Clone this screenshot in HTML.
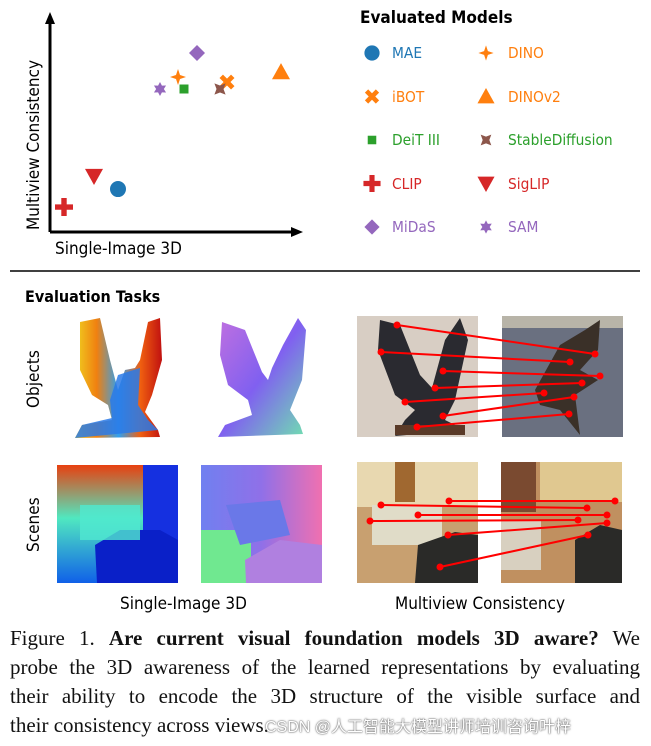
<!DOCTYPE html>
<html><head><meta charset="utf-8">
<style>
body{margin:0;background:#fff;width:651px;height:746px;overflow:hidden;position:relative;font-family:"Liberation Sans",sans-serif}
.abs{position:absolute}
.leg{position:absolute;font-size:15px;font-family:"DejaVu Sans","Liberation Sans",sans-serif;transform:scaleX(0.92);transform-origin:left}
.cap{position:absolute;left:10px;width:630px;font-family:"Liberation Serif",serif;font-size:21px;text-align:justify;text-align-last:justify;line-height:29px;color:#111}
</style></head><body>
<svg class="abs" style="left:0;top:0" width="651" height="746">
<defs>
<linearGradient id="dep" x1="0" y1="0" x2="1" y2="0"><stop offset="0" stop-color="#f0d020"/><stop offset="0.25" stop-color="#f08010"/><stop offset="0.5" stop-color="#30a0f0"/><stop offset="0.75" stop-color="#f06010"/><stop offset="1" stop-color="#c01010"/></linearGradient>
<linearGradient id="nrm" x1="0" y1="0" x2="1" y2="1"><stop offset="0" stop-color="#c070e0"/><stop offset="0.5" stop-color="#8060f0"/><stop offset="1" stop-color="#70e0b0"/></linearGradient>
<linearGradient id="sd" x1="0" y1="0" x2="0" y2="1"><stop offset="0" stop-color="#e84010"/><stop offset="0.45" stop-color="#50e8c0"/><stop offset="1" stop-color="#1060e8"/></linearGradient>
<linearGradient id="sn" x1="0" y1="0" x2="1" y2="0"><stop offset="0" stop-color="#7080f0"/><stop offset="0.5" stop-color="#9070e8"/><stop offset="1" stop-color="#f070b0"/></linearGradient>
</defs>
<g id="plot"></g>
<line x1="10" y1="271" x2="640" y2="271" stroke="#000" stroke-width="1.5"/>
<g>
<path d="M80,322 L100,318 L110,360 L118,390 L125,370 L135,368 L140,360 L148,322 L160,318 L162,360 L152,395 L145,412 L158,430 L160,437 L75,438 L82,425 L112,420 L108,405 L92,395 L80,370 Z" fill="url(#dep)"/>
<path d="M118,375 L140,368 L138,405 L148,420 L158,430 L75,438 L82,425 L112,418 L110,400 Z" fill="#2a7ae8" opacity="0.85"/>
</g>
<g>
<path d="M222,322 L245,330 L262,372 L268,380 L272,368 L283,345 L298,318 L306,330 L302,380 L290,410 L300,425 L303,434 L218,437 L225,425 L252,415 L248,400 L228,385 L220,355 Z" fill="url(#nrm)"/>
</g>
<rect x="57" y="465" width="121" height="118" fill="url(#sd)"/>
<rect x="143" y="465" width="35" height="118" fill="#1530e0"/>
<path d="M97,583 L95,545 L120,530 L160,530 L178,540 L178,583 Z" fill="#0a20c8"/>
<rect x="80" y="505" width="60" height="35" fill="#50e8d0" opacity="0.8"/>
<rect x="201" y="465" width="121" height="118" fill="url(#sn)"/>
<rect x="201" y="530" width="50" height="53" fill="#70e890"/>
<path d="M226,505 L280,500 L290,535 L240,545 Z" fill="#6a78e8"/>
<path d="M246,583 L245,560 L280,540 L322,545 L322,583 Z" fill="#b080e0"/>
<g>
<rect x="357" y="316" width="121" height="121" fill="#d8cec4"/>
<path d="M380,320 L400,325 L420,375 L432,388 L445,340 L460,318 L468,340 L455,400 L445,420 L465,430 L395,436 L405,420 L415,410 L395,395 L378,350 Z" fill="#2a2a30"/>
<rect x="395" y="425" width="70" height="10" fill="#5a3a28"/>
</g>
<g>
<rect x="502" y="316" width="121" height="121" fill="#6a7080"/>
<rect x="502" y="316" width="121" height="12" fill="#b8b4a8"/>
<path d="M535,390 L560,345 L585,330 L600,320 L598,350 L580,370 L598,380 L575,395 L580,435 L560,410 L540,405 Z" fill="#3a3028"/>
</g>
<g>
<rect x="357" y="462" width="121" height="121" fill="#c8a070"/>
<rect x="357" y="462" width="121" height="45" fill="#e8d8b0"/>
<rect x="395" y="462" width="20" height="40" fill="#a06830"/>
<rect x="372" y="505" width="70" height="40" fill="#e0dcc8"/>
<path d="M415,583 L418,545 L455,532 L478,535 L478,583 Z" fill="#2a2a28"/>
</g>
<g>
<rect x="501" y="462" width="121" height="121" fill="#c09060"/>
<rect x="501" y="462" width="35" height="50" fill="#7a4a30"/>
<rect x="540" y="462" width="82" height="40" fill="#e0c890"/>
<rect x="501" y="520" width="40" height="50" fill="#d8d0c0"/>
<path d="M575,583 L575,540 L600,525 L622,530 L622,583 Z" fill="#2a2a28"/>
</g>
<g id="lines"></g>
</svg>

<div class="abs" style="left:360px;top:8px;font-size:17px;font-weight:bold;font-family:'DejaVu Sans',sans-serif;transform:scaleX(0.9);transform-origin:left">Evaluated Models</div>
<div id="legend"></div>

<div class="abs" style="left:55px;top:239px;font-size:17px;font-family:'DejaVu Sans',sans-serif;transform:scaleX(0.9);transform-origin:left">Single-Image 3D</div>
<div class="abs" style="left:24px;top:230px;font-size:17px;font-family:'DejaVu Sans',sans-serif;transform:rotate(-90deg) scaleX(0.9);transform-origin:left top;white-space:nowrap">Multiview Consistency</div>

<div class="abs" style="left:25px;top:287px;font-size:16px;font-weight:bold;font-family:'DejaVu Sans',sans-serif;transform:scaleX(0.9);transform-origin:left">Evaluation Tasks</div>
<div class="abs" style="left:24px;top:408px;font-size:17px;font-family:'DejaVu Sans',sans-serif;transform:rotate(-90deg) scaleX(0.9);transform-origin:left top">Objects</div>
<div class="abs" style="left:24px;top:552px;font-size:17px;font-family:'DejaVu Sans',sans-serif;transform:rotate(-90deg) scaleX(0.9);transform-origin:left top">Scenes</div>
<div class="abs" style="left:120px;top:594px;font-size:17px;font-family:'DejaVu Sans',sans-serif;transform:scaleX(0.9);transform-origin:left">Single-Image 3D</div>
<div class="abs" style="left:395px;top:594px;font-size:17px;font-family:'DejaVu Sans',sans-serif;transform:scaleX(0.9);transform-origin:left">Multiview Consistency</div>

<div class="cap" style="top:624px">Figure 1. <b>Are current visual foundation models 3D aware?</b> We</div>
<div class="cap" style="top:653px">probe the 3D awareness of the learned representations by evaluating</div>
<div class="cap" style="top:682px">their ability to encode the 3D structure of the visible surface and</div>
<div class="cap" style="top:711px;text-align-last:left">their consistency across views.</div>
<div class="abs" style="left:265px;top:713px;font-size:16px;color:#fff;text-shadow:0 0 2px #666,0 0 1px #444;font-family:'Liberation Sans','Noto Sans CJK SC',sans-serif">CSDN @人工智能大模型讲师培训咨询叶梓</div>

<script>
const models=["MAE","iBOT","DeiT III","CLIP","MiDaS","DINO","DINOv2","StableDiffusion","SigLIP","SAM"];
const xVals=[27.2,70.8,53.6,5.6,58.8,51.2,92.4,68,17.6,44];
const yVals=[19.8,69.1,65.9,11.5,82.5,71.4,73.7,65.9,25.8,65.9];
const colors=["#1f77b4","#ff7f0e","#2ca02c","#d62728","#9467bd","#ff7f0e","#ff7f0e","#8c564b","#d62728","#9467bd"];
const textColors=["#1f77b4","#ff7f0e","#2ca02c","#d62728","#9467bd","#ff7f0e","#ff7f0e","#2ca02c","#d62728","#9467bd"];
const shapes=["circle","x","square","plus","diamond","star4","triangle","sq4","tridown","star6"];
const NS="http://www.w3.org/2000/svg";
const X0=50,X1=300,Y0=232,Y1=15;
function sx(v){return X0+v/100*(X1-X0);}
function sy(v){return Y0-v/100*(Y0-Y1);}
function marker(shape,cx,cy,r,col){
  let el;
  const p=(pts)=>{el=document.createElementNS(NS,'polygon');el.setAttribute('points',pts.map(q=>(cx+q[0]*r)+','+(cy+q[1]*r)).join(' '));};
  if(shape==='circle'){el=document.createElementNS(NS,'circle');el.setAttribute('cx',cx);el.setAttribute('cy',cy);el.setAttribute('r',r);}
  else if(shape==='square'){p([[-.75,-.75],[.75,-.75],[.75,.75],[-.75,.75]]);}
  else if(shape==='diamond'){p([[0,-1],[1,0],[0,1],[-1,0]]);}
  else if(shape==='triangle'){p([[0,-1],[1,.8],[-1,.8]]);}
  else if(shape==='tridown'){p([[-1,-.8],[1,-.8],[0,1]]);}
  else if(shape==='plus'){const a=.3;p([[-a,-1],[a,-1],[a,-a],[1,-a],[1,a],[a,a],[a,1],[-a,1],[-a,a],[-1,a],[-1,-a],[-a,-a]]);}
  else if(shape==='x'){const a=.3;const pts=[[-a,-1],[a,-1],[a,-a],[1,-a],[1,a],[a,a],[a,1],[-a,1],[-a,a],[-1,a],[-1,-a],[-a,-a]].map(q=>[(q[0]-q[1])*.72,(q[0]+q[1])*.72]);p(pts);}
  else if(shape==='star4'){p([[0,-1],[.25,-.25],[1,0],[.25,.25],[0,1],[-.25,.25],[-1,0],[-.25,-.25]]);}
  else if(shape==='sq4'){p([[-.8,-.8],[0,-.5],[.8,-.8],[.5,0],[.8,.8],[0,.5],[-.8,.8],[-.5,0]]);}
  else if(shape==='star6'){const pts=[];for(let i=0;i<12;i++){const a=Math.PI/6*i-Math.PI/2;const rr=i%2?.55:1;pts.push([rr*Math.cos(a),rr*Math.sin(a)]);}p(pts);}
  el.setAttribute('fill',col);return el;
}
const plot=document.getElementById('plot');
const ax=document.createElementNS(NS,'path');
ax.setAttribute('d','M50,232 L50,22 M50,232 L294,232');ax.setAttribute('stroke','#000');ax.setAttribute('stroke-width','3');ax.setAttribute('fill','none');


plot.appendChild(ax);
const ah=document.createElementNS(NS,'path');
ah.setAttribute('d','M50,12 L45,24 L55,24 Z M303,232 L291,227 L291,237 Z');ah.setAttribute('fill','#000');


plot.appendChild(ah);
const sizes={circle:8,x:8,square:6,plus:9,diamond:8,star4:8,triangle:9,sq4:7,tridown:9,star6:7};
models.forEach((m,i)=>{
  const el=marker(shapes[i],sx(xVals[i]),sy(yVals[i]),sizes[shapes[i]],colors[i]);
  
  
  plot.appendChild(el);
});
const svg=document.querySelector('svg');
const leg=document.getElementById('legend');
models.forEach((m,i)=>{
  const col=i<5?0:1,row=i%5;
  const cy=53+row*43.5;
  const el=marker(shapes[i],col?486:372,cy,sizes[shapes[i]]*0.95,colors[i]);
  
  
  svg.appendChild(el);
  const d=document.createElement('div');
  d.className='leg';d.textContent=m;d.style.left=(col?508:392)+'px';d.style.top=(cy-9)+'px';d.style.color=textColors[i];
  
  
  leg.appendChild(d);
});
const segs=[[397,325,595,354],[381,352,570,362],[443,371,600,376],[435,388,582,383],[405,402,544,393],[443,416,574,397],[417,427,569,414],
[449,501,615,501],[381,505,587,508],[418,515,607,515],[370,521,578,520],[448,535,607,523],[440,567,588,535]];
const lg=document.getElementById('lines');
segs.forEach(s=>{
  const l=document.createElementNS(NS,'line');
  l.setAttribute('x1',s[0]);l.setAttribute('y1',s[1]);l.setAttribute('x2',s[2]);l.setAttribute('y2',s[3]);
  l.setAttribute('stroke','#f00');l.setAttribute('stroke-width','2');
  lg.appendChild(l);
  [[s[0],s[1]],[s[2],s[3]]].forEach(q=>{const c=document.createElementNS(NS,'circle');c.setAttribute('cx',q[0]);c.setAttribute('cy',q[1]);c.setAttribute('r','3.5');c.setAttribute('fill','#f00');lg.appendChild(c);});
});
</script>
</body></html>
